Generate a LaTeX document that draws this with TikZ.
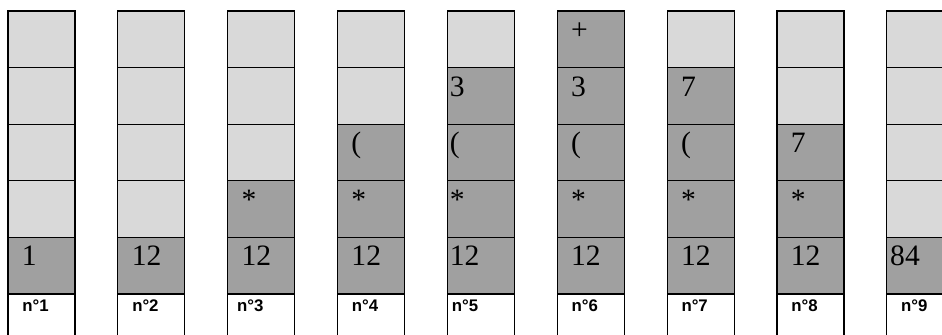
\documentclass[tikz,border=0pt]{standalone}
\usepackage{fontspec}
\setmainfont{Liberation Serif}
\newfontfamily\labelfont{Liberation Sans Bold}
\definecolor{slotempty}{HTML}{D9D9D9}
\definecolor{slotfull}{HTML}{A0A0A0}
\tikzset{
  emptyslot/.style={fill=slotempty, draw=black, line width=0.6pt},
  fullslot/.style={fill=slotfull, draw=black, line width=0.6pt},
  labelslot/.style={fill=white, draw=black, line width=0.6pt},
  slottext/.style={anchor=base west, inner sep=0pt, font=\fontsize{14.8}{14.8}\selectfont},
  labeltext/.style={anchor=base west, inner sep=0pt, font=\labelfont\fontsize{8.4}{8.4}\selectfont},
}
\begin{document}
\begin{tikzpicture}[x=0.5pt,y=-0.5pt]
  \useasboundingbox (0,0) rectangle (942,334);
  \clip (0,0) rectangle (942,334);
  % one stack per step: number / text shift / label shift / contents from bottom up
  \foreach \col/\dx/\ldx/\items in {1/13.5/14/{1}, 2/13.5/14/{12}, 3/13.5/9/{12,*},
      4/13.5/14/{12,*,{(}}, 5/2/4/{12,*,{(},3}, 6/13.5/14/{12,*,{(},3,+},
      7/13.5/14/{12,*,{(},7}, 8/13.5/14/{12,*,7}, 9/3/14/{84}} {
    \pgfmathsetmacro\xl{8+109.85*(\col-1)}
    \foreach \r in {1,...,5}
      \draw[emptyslot] (\xl,{294-56.6*\r}) rectangle ++(67,56.6);
    \foreach \t [count=\r] in \items {
      \draw[fullslot] (\xl,{294-56.6*\r}) rectangle ++(67,56.6);
      \node[slottext] (s\col-\r) at (\xl+\dx,{294-56.6*\r+28.5}) {\t};
    }
    \draw[labelslot] (\xl,294) rectangle ++(67,60);
    \node[labeltext] (n\col) at (\xl+\ldx,311.7) {n°\col};
  }
\end{tikzpicture}
\end{document}
